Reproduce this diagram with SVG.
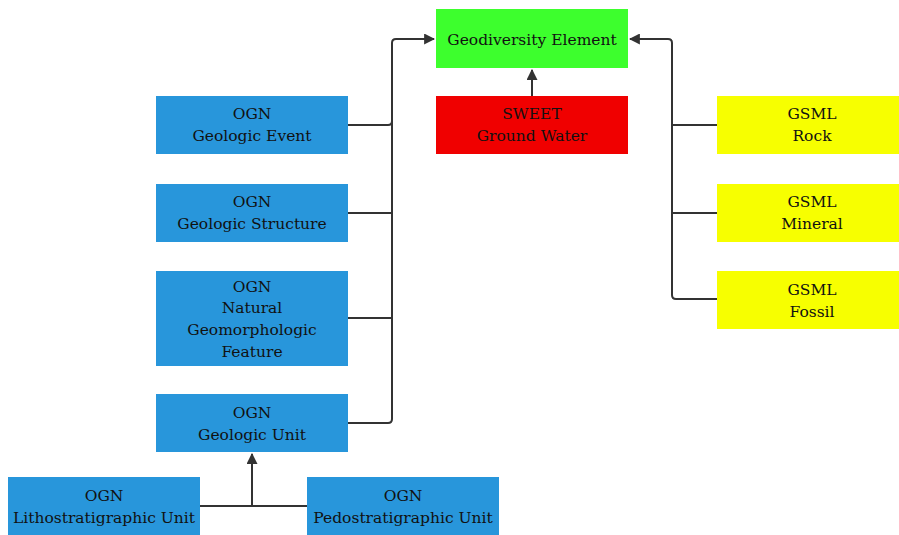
<svg xmlns="http://www.w3.org/2000/svg" width="899" height="535" viewBox="0 0 899 535">
<style>
.t{font-family:"DejaVu Serif","Liberation Serif",serif;font-size:15.5px;fill:#111;text-anchor:middle}
.c{fill:none;stroke:#333;stroke-width:2;stroke-linejoin:round}
.blue{fill:#2896db}
.yel{fill:#f7ff00}
</style>
<defs>
<marker id="ah" viewBox="0 0 10 10" refX="9" refY="5" markerWidth="5.5" markerHeight="5.5" orient="auto" markerUnits="strokeWidth">
<path d="M0,0 L10,5 L0,10 z" fill="#333"/>
</marker>
</defs>
<rect width="899" height="535" fill="#fff"/>
<g id="connectors">
<path class="c" d="M348,125 H388 Q392,125 392,121 M348,213 H392 M348,318 H392 M348,423 H388 Q392,423 392,419 V43 Q392,39 396,39 H434" marker-end="url(#ah)"/>
<path class="c" d="M717,299 H676 Q672,299 672,295 V43 Q672,39 668,39 H630" marker-end="url(#ah)"/>
<path class="c" d="M717,125 H672 M717,213 H672"/>
<path class="c" d="M532,96 V70" marker-end="url(#ah)"/>
<path class="c" d="M200,506 H307 M252,506 V454" marker-end="url(#ah)"/>
</g>
<g id="geodiversity"><rect x="436" y="9" width="192" height="59" fill="#3dff2d"/><text class="t" x="532" y="45">Geodiversity Element</text></g>
<g id="sweet"><rect x="436" y="96" width="192" height="58" fill="#f00000"/><text class="t" x="532" y="119">SWEET</text><text class="t" x="532" y="141">Ground Water</text></g>
<g id="event"><rect class="blue" x="156" y="96" width="192" height="58"/><text class="t" x="252" y="119">OGN</text><text class="t" x="252" y="141">Geologic Event</text></g>
<g id="structure"><rect class="blue" x="156" y="184" width="192" height="58"/><text class="t" x="252" y="207">OGN</text><text class="t" x="252" y="229">Geologic Structure</text></g>
<g id="feature"><rect class="blue" x="156" y="271" width="192" height="95"/><text class="t" x="252" y="292">OGN</text><text class="t" x="252" y="313">Natural</text><text class="t" x="252" y="335">Geomorphologic</text><text class="t" x="252" y="357">Feature</text></g>
<g id="unit"><rect class="blue" x="156" y="394" width="192" height="58"/><text class="t" x="252" y="418">OGN</text><text class="t" x="252" y="440">Geologic Unit</text></g>
<g id="litho"><rect class="blue" x="8" y="477" width="192" height="58"/><text class="t" x="104" y="501">OGN</text><text class="t" x="104" y="523">Lithostratigraphic Unit</text></g>
<g id="pedo"><rect class="blue" x="307" y="477" width="192" height="58"/><text class="t" x="403" y="501">OGN</text><text class="t" x="403" y="523">Pedostratigraphic Unit</text></g>
<g id="rock"><rect class="yel" x="717" y="96" width="192" height="58"/><text class="t" x="812" y="119">GSML</text><text class="t" x="812" y="141">Rock</text></g>
<g id="mineral"><rect class="yel" x="717" y="184" width="192" height="58"/><text class="t" x="812" y="207">GSML</text><text class="t" x="812" y="229">Mineral</text></g>
<g id="fossil"><rect class="yel" x="717" y="271" width="192" height="58"/><text class="t" x="812" y="295">GSML</text><text class="t" x="812" y="317">Fossil</text></g>
</svg>
